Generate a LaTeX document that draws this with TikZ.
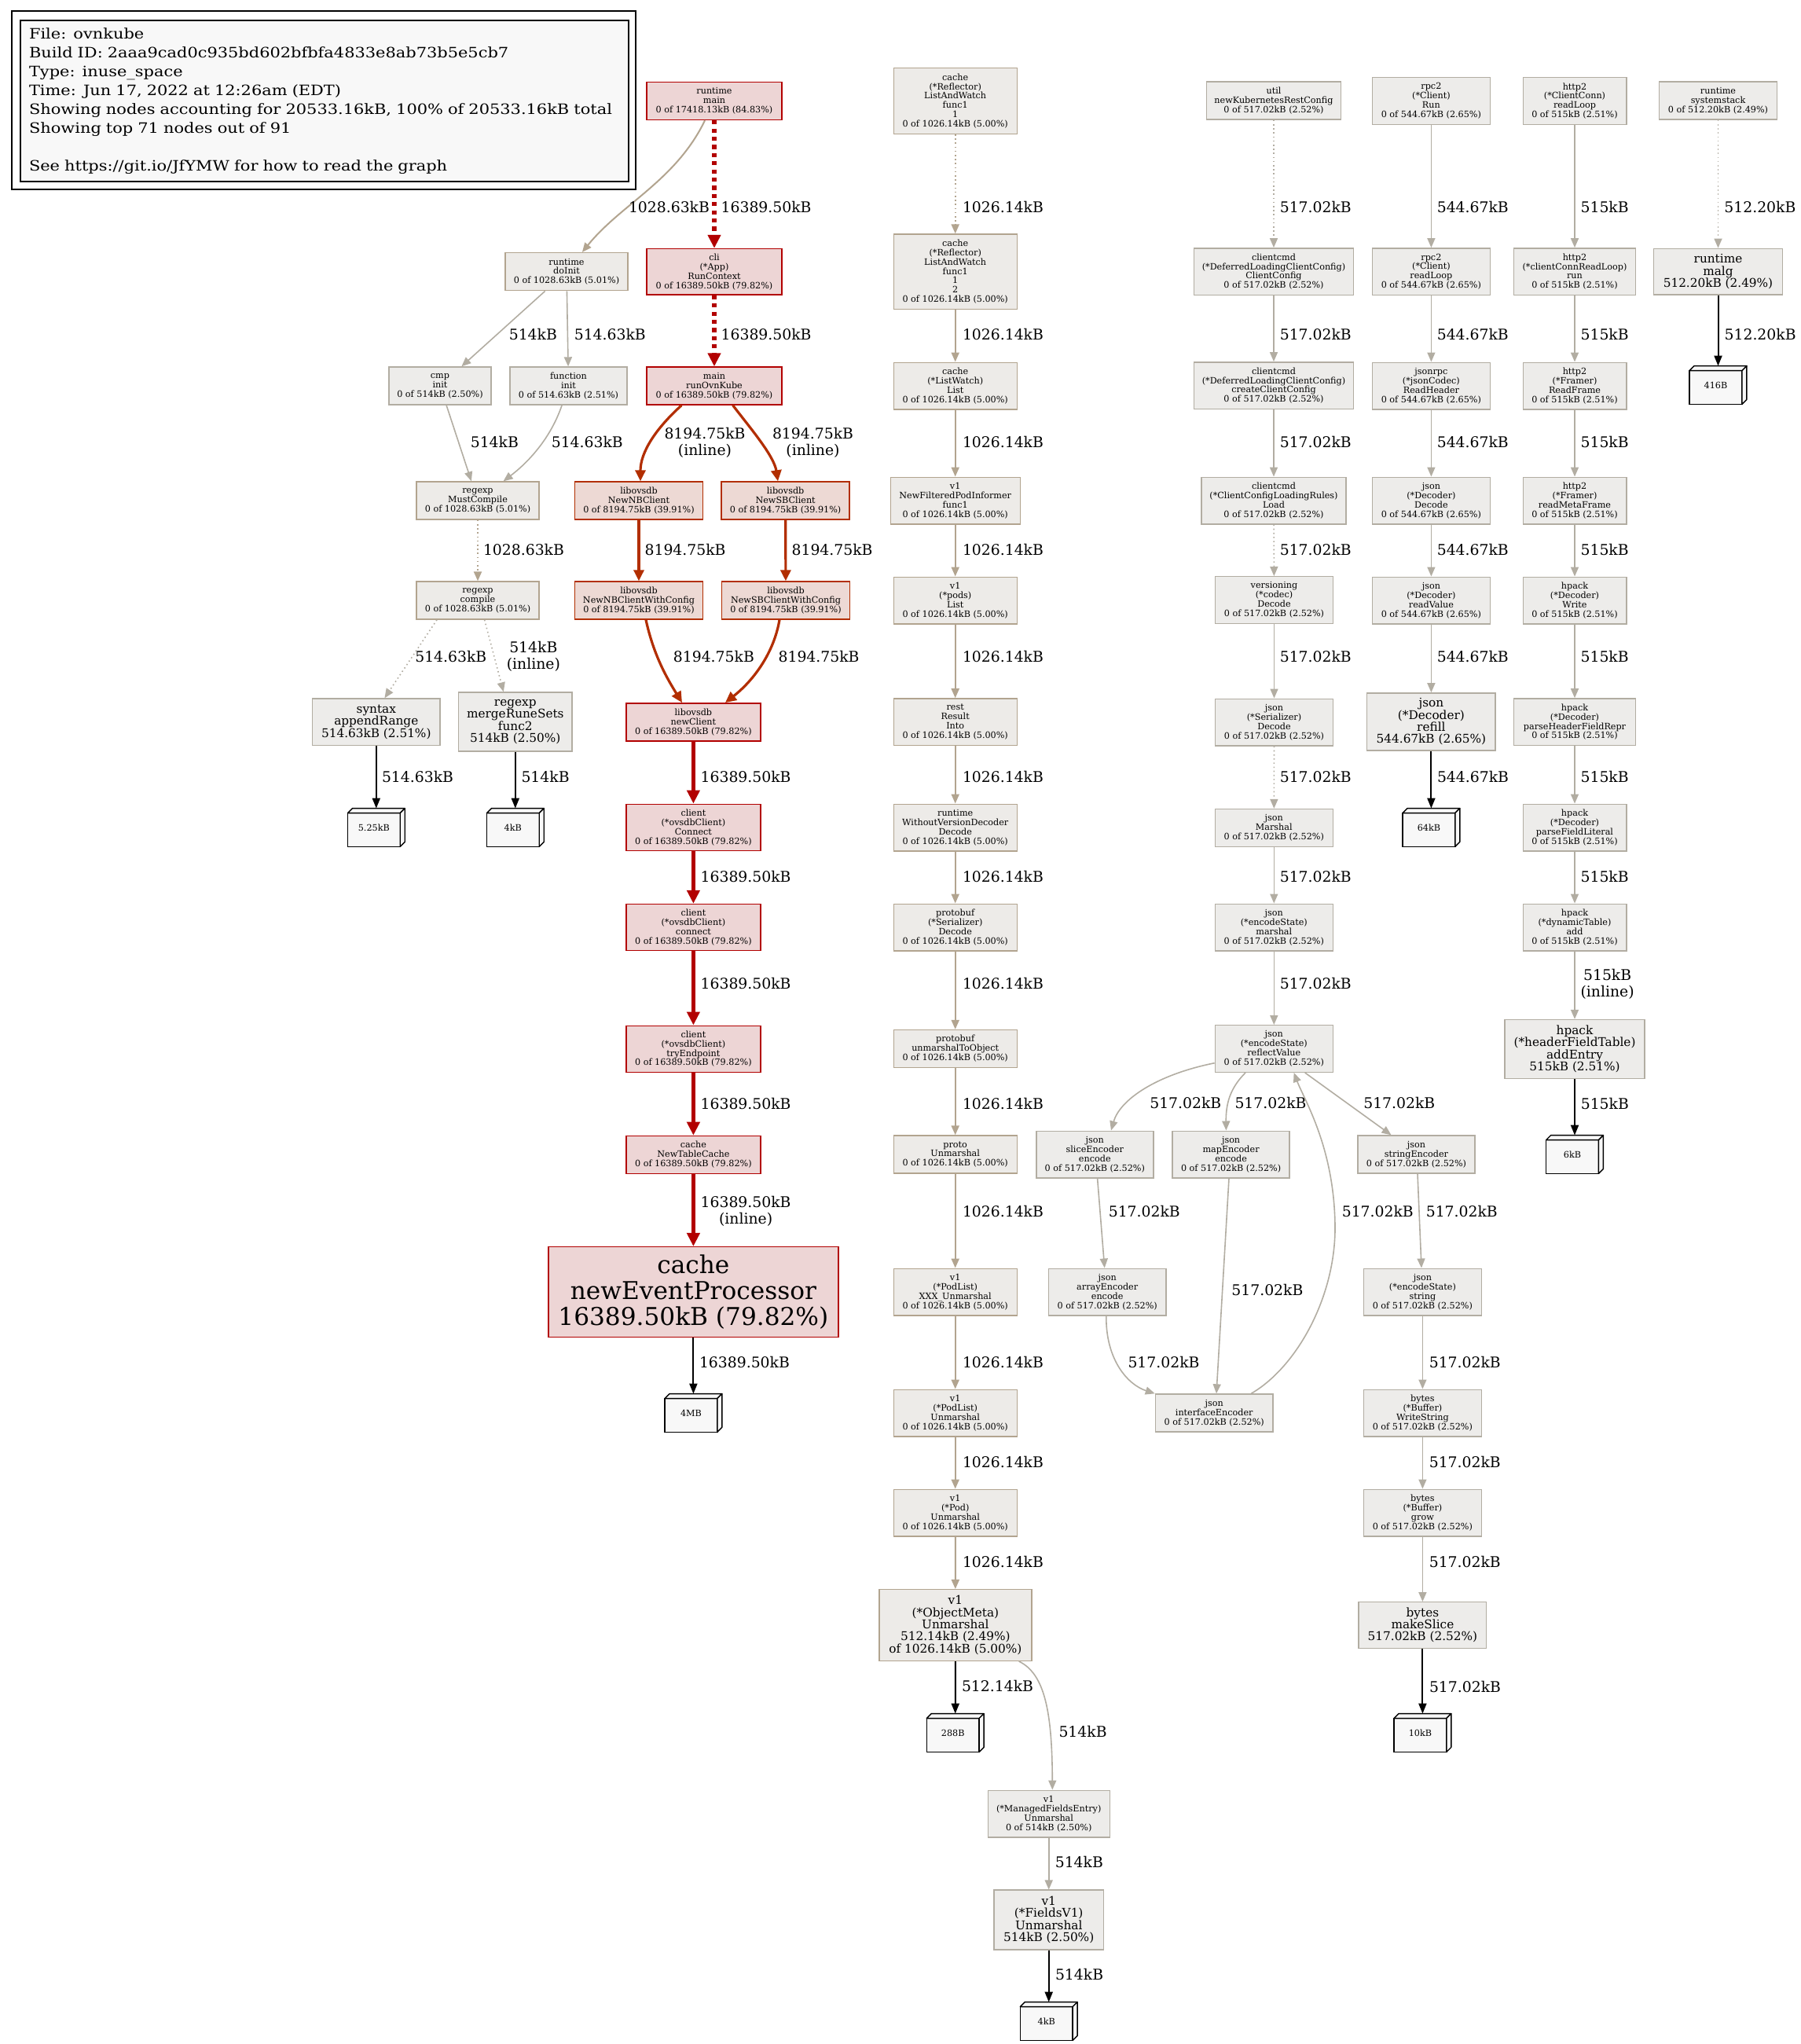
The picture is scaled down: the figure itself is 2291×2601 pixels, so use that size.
\documentclass[tikz,border=0pt]{standalone}
\usepackage{fontspec}
\setmainfont{DejaVu Serif}
\newfontfamily\legfont[FakeStretch=1.15]{DejaVu Serif}
\usetikzlibrary{arrows.meta,calc}
\definecolor{cRed}{HTML}{B20000}
\definecolor{cRedF}{HTML}{EDD5D5}
\definecolor{cOrg}{HTML}{B22E00}
\definecolor{cOrgF}{HTML}{EDD9D4}
\definecolor{cTan}{HTML}{B2A48F}
\definecolor{cTanF}{HTML}{EDEBE8}
\definecolor{cGry}{HTML}{B2ADA2}
\definecolor{cGryF}{HTML}{EDECEA}
\definecolor{cLeafF}{HTML}{F8F8F8}
\definecolor{cLegF}{HTML}{F8F8F8}
\newcommand\fntS{\fontsize{5.6pt}{5.95pt}\selectfont}
\newcommand\fntM{\fontsize{7.65pt}{7.65pt}\selectfont}
\newcommand\fntL{\fontsize{15.6pt}{16.5pt}\selectfont}
\newcommand\fntE{\fontsize{9.4pt}{10.4pt}\selectfont}
\newcommand\fntG{\legfont\fontsize{9.1pt}{12pt}\selectfont}
\newcommand\lft[1]{\raisebox{-3pt}{#1}\hspace*{3pt}}
\pgfdeclarelayer{bg}
\pgfsetlayers{bg,main}
\tikzset{
 fn/.style={rectangle, inner sep=0pt, align=center, line width=0.7pt, font=\fntS},
 sz/.style 2 args={minimum width=#1*0.5pt, minimum height=#2*0.5pt},
 nred/.style={fn, draw=cRed, fill=cRedF},
 norg/.style={fn, draw=cOrg, fill=cOrgF},
 ntan/.style={fn, draw=cTan, fill=cTanF},
 ngry/.style={fn, draw=cGry, fill=cGryF},
 fmed/.style={font=\fntM},
 fbig/.style={font=\fntL},
 leaf/.style={rectangle, inner sep=0pt, minimum width=36pt, minimum height=24pt, font=\fntS},
 lbl/.style={font=\fntE, inner sep=0pt, anchor=west, align=center, text=black},
 ered/.style={draw=cRed, line width=2.65pt, -{Triangle[length=8.5pt,width=8pt]}},
 eorg/.style={draw=cOrg, line width=1.6pt, -{Triangle[length=7pt,width=6.5pt]}},
 etan/.style={draw=cTan, line width=1pt, -{Triangle[length=6pt,width=5pt]}},
 egry/.style={draw=cGry, line width=0.8pt, -{Triangle[length=6pt,width=5pt]}},
 eblk/.style={draw=black, line width=1pt, -{Triangle[length=6.5pt,width=5pt]}},
 dotd/.style={dash pattern=on 0.8pt off 1.8pt},
 reddot/.style={dash pattern=on 2.6pt off 2.6pt},
 legendbox/.style={rectangle, draw=black, line width=1pt, fill=cLegF, minimum width=387pt, minimum height=102.35pt, text width=376pt, align=left, inner xsep=5.5pt, inner ysep=0pt, font=\fntG}
}
\begin{document}
\begin{tikzpicture}[x=0.5pt, y=-0.5pt]
\begin{pgfonlayer}{bg}
\fill[white] (0,0) rectangle (2291,2601);
\end{pgfonlayer}
\useasboundingbox (0,0) rectangle (2291,2601);

% legend
\node[legendbox] (legend) at (413,128.35) {File: ovnkube\\
Build ID: 2aaa9cad0c935bd602bfbfa4833e8ab73b5e5cb7\\
Type: inuse\_space\\
Time: Jun 17, 2022 at 12:26am (EDT)\\
Showing nodes accounting for 20533.16kB, 100\% of 20533.16kB total\\
Showing top 71 nodes out of 91\\
\mbox{}\\
See https://git.io/JfYMW for how to read the graph};
\draw[black, line width=1pt] ($(legend.north west)+(-10.4,-11)$) rectangle ($(legend.south east)+(8,9.3)$);

% column A
\node[nred, sz={172}{48}] (rmain) at (909,128.5) {runtime\\main\\0 of 17418.13kB (84.83\%)};
\node[nred, sz={172}{58.5}] (cli) at (909,345.8) {cli\\(*App)\\RunContext\\0 of 16389.50kB (79.82\%)};
\node[nred, sz={172}{48}] (runovn) at (909,491) {main\\runOvnKube\\0 of 16389.50kB (79.82\%)};
\node[ntan, sz={156}{48}] (doinit) at (721,345.7) {runtime\\doInit\\0 of 1028.63kB (5.01\%)};
\node[ngry, sz={130}{48}] (cmpinit) at (560,491) {cmp\\init\\0 of 514kB (2.50\%)};
\node[ngry, sz={149}{48}] (funcinit) at (723.5,491) {function\\init\\0 of 514.63kB (2.51\%)};
\node[ntan, sz={156}{48}] (mustcompile) at (608,637) {regexp\\MustCompile\\0 of 1028.63kB (5.01\%)};
\node[ntan, sz={156}{48}] (compile) at (608,764) {regexp\\compile\\0 of 1028.63kB (5.01\%)};
\node[ngry, fmed, sz={162.5}{59.3}] (appendrange) at (478.8,918.7) {syntax\\appendRange\\514.63kB (2.51\%)};
\node[ngry, fmed, sz={144.6}{75}] (mergerune) at (655.8,918.5) {regexp\\mergeRuneSets\\func2\\514kB (2.50\%)};
\node[norg, sz={163}{48}] (newnb) at (813,637) {libovsdb\\NewNBClient\\0 of 8194.75kB (39.91\%)};
\node[norg, sz={163}{48}] (newsb) at (999.6,637) {libovsdb\\NewSBClient\\0 of 8194.75kB (39.91\%)};
\node[norg, sz={163}{48}] (nbcfg) at (813,764) {libovsdb\\NewNBClientWithConfig\\0 of 8194.75kB (39.91\%)};
\node[norg, sz={163}{48}] (sbcfg) at (1000,764) {libovsdb\\NewSBClientWithConfig\\0 of 8194.75kB (39.91\%)};
\node[nred, sz={171}{48}] (newclient) at (882.4,918.8) {libovsdb\\newClient\\0 of 16389.50kB (79.82\%)};
\node[nred, sz={171}{59.5}] (connectU) at (882.4,1053) {client\\(*ovsdbClient)\\Connect\\0 of 16389.50kB (79.82\%)};
\node[nred, sz={171}{59}] (connectL) at (882.4,1180) {client\\(*ovsdbClient)\\connect\\0 of 16389.50kB (79.82\%)};
\node[nred, sz={171}{59}] (tryend) at (882.4,1334.7) {client\\(*ovsdbClient)\\tryEndpoint\\0 of 16389.50kB (79.82\%)};
\node[nred, sz={171}{48}] (newtablecache) at (882.4,1469.4) {cache\\NewTableCache\\0 of 16389.50kB (79.82\%)};
\node[nred, fbig, sz={369}{114.7}] (newevent) at (882.4,1644) {cache\\newEventProcessor\\16389.50kB (79.82\%)};

% column B
\node[ntan, sz={157}{83.4}] (law1) at (1215.7,128.5) {cache\\(*Reflector)\\ListAndWatch\\func1\\1\\0 of 1026.14kB (5.00\%)};
\node[ntan, sz={157}{95.3}] (law12) at (1215.7,345.7) {cache\\(*Reflector)\\ListAndWatch\\func1\\1\\2\\0 of 1026.14kB (5.00\%)};
\node[ntan, sz={157}{59.6}] (listwatch) at (1215.7,491) {cache\\(*ListWatch)\\List\\0 of 1026.14kB (5.00\%)};
\node[ntan, sz={165}{59.6}] (nfpi) at (1215.7,637) {v1\\NewFilteredPodInformer\\func1\\0 of 1026.14kB (5.00\%)};
\node[ntan, sz={157}{59.6}] (podslist) at (1215.7,764) {v1\\(*pods)\\List\\0 of 1026.14kB (5.00\%)};
\node[ntan, sz={157}{59.6}] (resultinto) at (1215.7,918.7) {rest\\Result\\Into\\0 of 1026.14kB (5.00\%)};
\node[ntan, sz={157}{59.6}] (wvd) at (1215.7,1053) {runtime\\WithoutVersionDecoder\\Decode\\0 of 1026.14kB (5.00\%)};
\node[ntan, sz={157}{59.6}] (pbserial) at (1215.7,1180) {protobuf\\(*Serializer)\\Decode\\0 of 1026.14kB (5.00\%)};
\node[ntan, sz={157}{48}] (unmarshaltoobj) at (1215.7,1334.5) {protobuf\\unmarshalToObject\\0 of 1026.14kB (5.00\%)};
\node[ntan, sz={157}{48}] (protounm) at (1215.7,1469) {proto\\Unmarshal\\0 of 1026.14kB (5.00\%)};
\node[ntan, sz={157}{59.6}] (podlistxxx) at (1215.7,1644) {v1\\(*PodList)\\XXX\_Unmarshal\\0 of 1026.14kB (5.00\%)};
\node[ntan, sz={157}{59.6}] (podlistunm) at (1215.7,1798) {v1\\(*PodList)\\Unmarshal\\0 of 1026.14kB (5.00\%)};
\node[ntan, sz={157}{59.6}] (podunm) at (1215.7,1925) {v1\\(*Pod)\\Unmarshal\\0 of 1026.14kB (5.00\%)};
\node[ntan, fmed, sz={194}{90.7}] (objmeta) at (1215.9,2068) {v1\\(*ObjectMeta)\\Unmarshal\\512.14kB (2.49\%)\\of 1026.14kB (5.00\%)};
\node[ngry, sz={155}{59.6}] (managed) at (1334.7,2308) {v1\\(*ManagedFieldsEntry)\\Unmarshal\\0 of 514kB (2.50\%)};
\node[ngry, fmed, sz={139.3}{75.7}] (fieldsv1) at (1334.7,2443) {v1\\(*FieldsV1)\\Unmarshal\\514kB (2.50\%)};

% column C
\node[ngry, sz={171}{48}] (utilnk) at (1621,128) {util\\newKubernetesRestConfig\\0 of 517.02kB (2.52\%)};
\node[ngry, sz={203.3}{59.6}] (dlccClient) at (1621,345.6) {clientcmd\\(*DeferredLoadingClientConfig)\\ClientConfig\\0 of 517.02kB (2.52\%)};
\node[ngry, sz={203.3}{59.6}] (dlccCreate) at (1621,490.6) {clientcmd\\(*DeferredLoadingClientConfig)\\createClientConfig\\0 of 517.02kB (2.52\%)};
\node[ngry, sz={184.3}{59.6}] (ccLoad) at (1621,637) {clientcmd\\(*ClientConfigLoadingRules)\\Load\\0 of 517.02kB (2.52\%)};
\node[ngry, sz={150}{59.6}] (versioning) at (1621.5,763.5) {versioning\\(*codec)\\Decode\\0 of 517.02kB (2.52\%)};
\node[ngry, sz={150}{59.6}] (jsonSerial) at (1621.5,919) {json\\(*Serializer)\\Decode\\0 of 517.02kB (2.52\%)};
\node[ngry, sz={150}{48}] (jsonMarshal) at (1621.3,1053.5) {json\\Marshal\\0 of 517.02kB (2.52\%)};
\node[ngry, sz={150}{59.6}] (encMarshal) at (1621.3,1180) {json\\(*encodeState)\\marshal\\0 of 517.02kB (2.52\%)};
\node[ngry, sz={150}{59.6}] (reflectValue) at (1621.3,1334.5) {json\\(*encodeState)\\reflectValue\\0 of 517.02kB (2.52\%)};
\node[ngry, sz={149}{59.6}] (sliceEnc) at (1393.3,1469) {json\\sliceEncoder\\encode\\0 of 517.02kB (2.52\%)};
\node[ngry, sz={149}{59.6}] (mapEnc) at (1566.6,1469) {json\\mapEncoder\\encode\\0 of 517.02kB (2.52\%)};
\node[ngry, sz={149}{48}] (stringEnc) at (1802.5,1469) {json\\stringEncoder\\0 of 517.02kB (2.52\%)};
\node[ngry, sz={149.6}{59.6}] (arrayEnc) at (1409.2,1644) {json\\arrayEncoder\\encode\\0 of 517.02kB (2.52\%)};
\node[ngry, sz={150}{59.6}] (stateString) at (1810.4,1644) {json\\(*encodeState)\\string\\0 of 517.02kB (2.52\%)};
\node[ngry, sz={149.6}{48}] (ifaceEnc) at (1545.2,1798) {json\\interfaceEncoder\\0 of 517.02kB (2.52\%)};
\node[ngry, sz={150}{59.6}] (writeString) at (1810.4,1798) {bytes\\(*Buffer)\\WriteString\\0 of 517.02kB (2.52\%)};
\node[ngry, sz={150}{59.6}] (grow) at (1810.4,1925) {bytes\\(*Buffer)\\grow\\0 of 517.02kB (2.52\%)};
\node[ngry, fmed, sz={162.5}{58.5}] (makeSlice) at (1810.4,2068) {bytes\\makeSlice\\517.02kB (2.52\%)};

% column D
\node[ngry, sz={150}{59.6}] (rpcRun) at (1821.4,128.5) {rpc2\\(*Client)\\Run\\0 of 544.67kB (2.65\%)};
\node[ngry, sz={150}{59.6}] (rpcRead) at (1821.4,345.6) {rpc2\\(*Client)\\readLoop\\0 of 544.67kB (2.65\%)};
\node[ngry, sz={150}{59.6}] (readHeader) at (1821.4,491) {jsonrpc\\(*jsonCodec)\\ReadHeader\\0 of 544.67kB (2.65\%)};
\node[ngry, sz={150}{59.6}] (jsonDecode) at (1821.4,637) {json\\(*Decoder)\\Decode\\0 of 544.67kB (2.65\%)};
\node[ngry, sz={150}{59.6}] (readValue) at (1821.4,764) {json\\(*Decoder)\\readValue\\0 of 544.67kB (2.65\%)};
\node[ngry, fmed, sz={163.5}{73.3}] (refill) at (1821.4,918.5) {json\\(*Decoder)\\refill\\544.67kB (2.65\%)};

% column E
\node[ngry, sz={131.6}{59.6}] (h2readLoop) at (2004,128.5) {http2\\(*ClientConn)\\readLoop\\0 of 515kB (2.51\%)};
\node[ngry, sz={155.2}{59.6}] (h2run) at (2004,345.6) {http2\\(*clientConnReadLoop)\\run\\0 of 515kB (2.51\%)};
\node[ngry, sz={131.6}{59.6}] (readFrame) at (2004,491) {http2\\(*Framer)\\ReadFrame\\0 of 515kB (2.51\%)};
\node[ngry, sz={131.6}{59.6}] (readMeta) at (2004,637) {http2\\(*Framer)\\readMetaFrame\\0 of 515kB (2.51\%)};
\node[ngry, sz={131.6}{59.6}] (hpWrite) at (2004,764) {hpack\\(*Decoder)\\Write\\0 of 515kB (2.51\%)};
\node[ngry, sz={155.2}{59.6}] (parseHFR) at (2004,918.7) {hpack\\(*Decoder)\\parseHeaderFieldRepr\\0 of 515kB (2.51\%)};
\node[ngry, sz={131.6}{59.6}] (parseFL) at (2004,1053) {hpack\\(*Decoder)\\parseFieldLiteral\\0 of 515kB (2.51\%)};
\node[ngry, sz={131.6}{59.6}] (dynAdd) at (2004,1180) {hpack\\(*dynamicTable)\\add\\0 of 515kB (2.51\%)};
\node[ngry, fmed, sz={177.7}{75}] (addEntry) at (2004,1335) {hpack\\(*headerFieldTable)\\addEntry\\515kB (2.51\%)};

% column F
\node[ngry, sz={150}{48}] (sysstack) at (2186.5,128) {runtime\\systemstack\\0 of 512.20kB (2.49\%)};
\node[ngry, fmed, sz={163.6}{58.6}] (malg) at (2186.5,345.6) {runtime\\malg\\512.20kB (2.49\%)};

% leaves
\node[leaf] (lf525) at (478.8,1053) {\lft{5.25kB}};
\node[leaf] (lf4kA) at (655.8,1053) {\lft{4kB}};
\node[leaf] (lf4MB) at (882.4,1798) {\lft{4MB}};
\node[leaf] (lf288) at (1215.7,2205) {\lft{288B}};
\node[leaf] (lf4kB) at (1334.7,2572) {\lft{4kB}};
\node[leaf] (lf10kB) at (1810.4,2205) {\lft{10kB}};
\node[leaf] (lf64kB) at (1821.4,1053) {\lft{64kB}};
\node[leaf] (lf6kB) at (2004,1469) {\lft{6kB}};
\node[leaf] (lf416B) at (2186.5,490) {\lft{416B}};
\begin{pgfonlayer}{bg}
\foreach \n in {lf525,lf4kA,lf4MB,lf288,lf4kB,lf10kB,lf64kB,lf6kB,lf416B} {
  \draw[line width=0.7pt, fill=cLeafF] (\n.south west) rectangle ($(\n.north east)+(-6,6)$);
  \draw[line width=0.7pt, fill=cLeafF, line join=round] ($(\n.north west)+(0,6)$) -- ($(\n.north west)+(6,0)$) -- (\n.north east) -- ($(\n.north east)+(-6,6)$) -- cycle;
  \draw[line width=0.7pt, fill=cLeafF, line join=round] ($(\n.north east)+(-6,6)$) -- (\n.north east) -- ($(\n.south east)+(0,-6)$) -- ($(\n.south east)+(-6,0)$) -- cycle;
}
\end{pgfonlayer}

% edges column A
\draw[etan] (rmain) .. controls (860,230) and (790,260) .. (doinit) node[lbl] at (799,263) {1028.63kB};
\draw[ered, reddot] (rmain) -- (cli) node[lbl] at (915,263) {16389.50kB};
\draw[ered, reddot] (cli) -- (runovn) node[lbl] at (915,425.6) {16389.50kB};
\draw[egry] (doinit) -- (cmpinit) node[lbl] at (647,425.6) {514kB};
\draw[egry] (doinit) -- (funcinit) node[lbl] at (730,425.6) {514.63kB};
\draw[egry] (cmpinit) -- (mustcompile) node[lbl] at (598,562.6) {514kB};
\draw[egry] (funcinit) .. controls (700,560) and (670,590) .. (mustcompile) node[lbl] at (701,562.6) {514.63kB};
\draw[etan, dotd] (mustcompile) -- (compile) node[lbl] at (614,699.3) {1028.63kB};
\draw[egry, dotd] ([xshift=-26pt]compile.south) -- ([xshift=5.3pt]appendrange.north) node[lbl] at (527.5,835.7) {514.63kB};
\draw[egry, dotd] ([xshift=4.3pt]compile.south) -- ([xshift=-7.5pt]mergerune.north) node[lbl] at (644,835.5) {514kB\\(inline)};
\draw[eblk] (appendrange) -- (lf525) node[lbl] at (485,988.3) {514.63kB};
\draw[eblk] (mergerune) -- (lf4kA) node[lbl] at (662.5,988.3) {514kB};
\draw[eorg] ([xshift=-20.8pt]runovn.south) .. controls (835,545) and (815,575) .. ([xshift=1pt]newnb.north) node[lbl, anchor=center] at (897,563) {8194.75kB\\(inline)};
\draw[eorg] ([xshift=11.8pt]runovn.south) .. controls (955,545) and (985,580) .. ([xshift=-4.8pt]newsb.north) node[lbl, anchor=center] at (1034.5,563) {8194.75kB\\(inline)};
\draw[eorg] (newnb) -- (nbcfg) node[lbl] at (819,699.3) {8194.75kB};
\draw[eorg] (newsb) -- (sbcfg) node[lbl] at (1006,699.3) {8194.75kB};
\draw[eorg] ([xshift=4.5pt]nbcfg.south) .. controls (832,835) and (850,865) .. ([xshift=-7.2pt]newclient.north) node[lbl] at (855.3,835.7) {8194.75kB};
\draw[eorg] ([xshift=-4pt]sbcfg.south) .. controls (985,830) and (960,865) .. ([xshift=20.3pt]newclient.north) node[lbl] at (989,835.7) {8194.75kB};
\draw[ered] (newclient) -- (connectU) node[lbl] at (889,988.3) {16389.50kB};
\draw[ered] (connectU) -- (connectL) node[lbl] at (889,1115.6) {16389.50kB};
\draw[ered] (connectL) -- (tryend) node[lbl] at (889,1251) {16389.50kB};
\draw[ered] (tryend) -- (newtablecache) node[lbl] at (889,1404) {16389.50kB};
\draw[ered] (newtablecache) -- (newevent) node[lbl] at (889,1541.3) {16389.50kB\\(inline)};
\draw[eblk] (newevent) -- (lf4MB) node[lbl] at (889,1733) {16389.50kB};

% edges column B
\draw[etan, dotd] (law1) -- (law12) node[lbl] at (1224,263) {1026.14kB};
\draw[etan] (law12) -- (listwatch) node[lbl] at (1224,425.6) {1026.14kB};
\draw[etan] (listwatch) -- (nfpi) node[lbl] at (1224,562.6) {1026.14kB};
\draw[etan] (nfpi) -- (podslist) node[lbl] at (1224,699.3) {1026.14kB};
\draw[etan] (podslist) -- (resultinto) node[lbl] at (1224,835.7) {1026.14kB};
\draw[etan] (resultinto) -- (wvd) node[lbl] at (1224,988.3) {1026.14kB};
\draw[etan] (wvd) -- (pbserial) node[lbl] at (1224,1115.6) {1026.14kB};
\draw[etan] (pbserial) -- (unmarshaltoobj) node[lbl] at (1224,1251) {1026.14kB};
\draw[etan] (unmarshaltoobj) -- (protounm) node[lbl] at (1224,1404) {1026.14kB};
\draw[etan] (protounm) -- (podlistxxx) node[lbl] at (1224,1541) {1026.14kB};
\draw[etan] (podlistxxx) -- (podlistunm) node[lbl] at (1224,1733) {1026.14kB};
\draw[etan] (podlistunm) -- (podunm) node[lbl] at (1224,1860) {1026.14kB};
\draw[etan] (podunm) -- (objmeta) node[lbl] at (1224,1987) {1026.14kB};
\draw[eblk] (objmeta) -- (lf288) node[lbl] at (1223,2145) {512.14kB};
\draw[egry] ([xshift=40.4pt]objmeta.south) .. controls (1330,2130) and (1339,2180) .. ([xshift=2.3pt]managed.north) node[lbl] at (1346.7,2203) {514kB};
\draw[egry] (managed) -- (fieldsv1) node[lbl] at (1342,2369) {514kB};
\draw[eblk] (fieldsv1) -- (lf4kB) node[lbl] at (1342,2512) {514kB};

% edges column C
\draw[egry, dotd] (utilnk) -- (dlccClient) node[lbl] at (1628,263) {517.02kB};
\draw[egry] (dlccClient) -- (dlccCreate) node[lbl] at (1628,425.6) {517.02kB};
\draw[egry] (dlccCreate) -- (ccLoad) node[lbl] at (1628,562.6) {517.02kB};
\draw[egry, dotd] (ccLoad) -- (versioning) node[lbl] at (1628,699.3) {517.02kB};
\draw[egry] (versioning) -- (jsonSerial) node[lbl] at (1628,835.7) {517.02kB};
\draw[egry, dotd] (jsonSerial) -- (jsonMarshal) node[lbl] at (1628,988.3) {517.02kB};
\draw[egry] (jsonMarshal) -- (encMarshal) node[lbl] at (1628,1115.6) {517.02kB};
\draw[egry] (encMarshal) -- (reflectValue) node[lbl] at (1628,1251) {517.02kB};
\draw[egry] ([yshift=-9.1pt]reflectValue.west) .. controls (1470,1368) and (1425,1400) .. ([xshift=10.35pt]sliceEnc.north) node[lbl] at (1462.5,1403.6) {517.02kB};
\draw[egry] ([xshift=-18.15pt]reflectValue.south) .. controls (1565,1385) and (1560,1405) .. ([xshift=-3.1pt]mapEnc.north) node[lbl] at (1570.7,1403.6) {517.02kB};
\draw[egry] ([xshift=19.7pt]reflectValue.south) -- ([xshift=-16pt]stringEnc.north) node[lbl] at (1734.5,1403.6) {517.02kB};
\draw[egry] ([xshift=1.65pt]sliceEnc.south) -- ([xshift=-1.75pt]arrayEnc.north) node[lbl] at (1410,1541) {517.02kB};
\draw[egry] ([xshift=-1.3pt]mapEnc.south) -- ([xshift=1.4pt]ifaceEnc.north) node[lbl] at (1566.6,1641.4) {517.02kB};
\draw[egry] ([xshift=-0.7pt]arrayEnc.south) .. controls (1407,1730) and (1435,1762) .. (ifaceEnc.north west) node[lbl] at (1434.7,1733) {517.02kB};
\draw[egry] ([xshift=23.5pt]ifaceEnc.north) .. controls (1650,1740) and (1700,1650) .. (1699,1560) .. controls (1698,1460) and (1660,1400) .. ([xshift=12.65pt]reflectValue.south) node[lbl] at (1707,1541) {517.02kB};
\draw[egry] ([xshift=0.75pt]stringEnc.south) -- ([xshift=-0.7pt]stateString.north) node[lbl] at (1814,1541) {517.02kB};
\draw[egry] (stateString) -- (writeString) node[lbl] at (1818,1733) {517.02kB};
\draw[egry] (writeString) -- (grow) node[lbl] at (1818,1860.4) {517.02kB};
\draw[egry] (grow) -- (makeSlice) node[lbl] at (1818,1987.7) {517.02kB};
\draw[eblk] (makeSlice) -- (lf10kB) node[lbl] at (1818,2146) {517.02kB};

% edges column D
\draw[egry] (rpcRun) -- (rpcRead) node[lbl] at (1828,263) {544.67kB};
\draw[egry] (rpcRead) -- (readHeader) node[lbl] at (1828,425.6) {544.67kB};
\draw[egry] (readHeader) -- (jsonDecode) node[lbl] at (1828,562.6) {544.67kB};
\draw[egry] (jsonDecode) -- (readValue) node[lbl] at (1828,699.3) {544.67kB};
\draw[egry] (readValue) -- (refill) node[lbl] at (1828,835.7) {544.67kB};
\draw[eblk] (refill) -- (lf64kB) node[lbl] at (1828,988.3) {544.67kB};

% edges column E
\draw[egry] (h2readLoop) -- (h2run) node[lbl] at (2010.8,263) {515kB};
\draw[egry] (h2run) -- (readFrame) node[lbl] at (2010.8,425.6) {515kB};
\draw[egry] (readFrame) -- (readMeta) node[lbl] at (2010.8,562.6) {515kB};
\draw[egry] (readMeta) -- (hpWrite) node[lbl] at (2010.8,699.3) {515kB};
\draw[egry] (hpWrite) -- (parseHFR) node[lbl] at (2010.8,835.7) {515kB};
\draw[egry] (parseHFR) -- (parseFL) node[lbl] at (2010.8,988.3) {515kB};
\draw[egry] (parseFL) -- (dynAdd) node[lbl] at (2010.8,1115.6) {515kB};
\draw[egry] (dynAdd) -- (addEntry) node[lbl] at (2010.8,1252) {515kB\\(inline)};
\draw[eblk] (addEntry) -- (lf6kB) node[lbl] at (2010.8,1404.8) {515kB};

% edges column F
\draw[egry, dotd] (sysstack) -- (malg) node[lbl] at (2193.6,263) {512.20kB};
\draw[eblk] (malg) -- (lf416B) node[lbl] at (2193.6,425.6) {512.20kB};
\end{tikzpicture}
\end{document}
